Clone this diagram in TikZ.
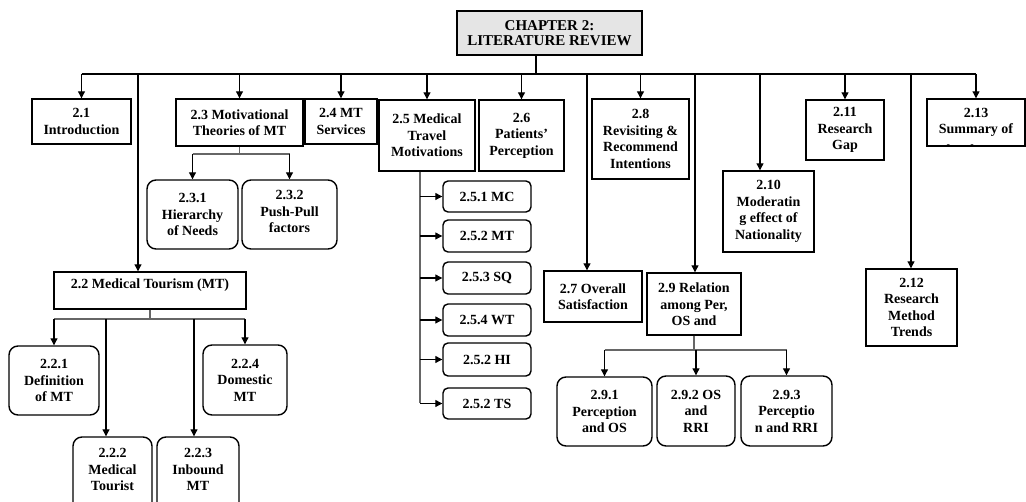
\documentclass[tikz,border=0pt]{standalone}
\usepackage{fontspec}
\setmainfont{Liberation Serif}
\usetikzlibrary{arrows.meta}

% box given by its corners: name, x1, y1, x2, y2, style, text
\newcommand\secbox[7]{%
  \node[#6, minimum width={(#4-#2)*1pt}, minimum height={(#5-#3)*1pt}]
    (#1) at ({(#2+#4)/2},{(#3+#5)/2}) {#7};}

\tikzset{
  lbl/.style={font=\fontsize{14}{16.5}\selectfont\bfseries, align=center, inner sep=0pt},
  box/.style={lbl, draw, line width=1.4pt},
  rbox/.style={box, rounded corners=9pt},
  sbox/.style={box, rounded corners=5pt},
  % text hung from the top edge and cut off by the frame
  toptext/.style 2 args={path picture={
      \node[lbl, draw=none, fill=none, minimum width=0pt, minimum height=0pt,
            rounded corners=0pt, anchor=north]
        at ([yshift=#2]path picture bounding box.north) {#1};}},
  link/.style={line width=1.1pt},
  arr/.style={link, -{Triangle[length=7pt,width=7pt]}},
  stem/.style={line width=1.2pt, draw=black!60},
}

\begin{document}
\begin{tikzpicture}[x=1pt,y=-1pt]
\clip (0,0) rectangle (1026,502);

% chapter header
\secbox{chap}{457}{11}{642}{55}{box, fill=gray!20, font=\fontsize{15}{15}\selectfont\bfseries}{CHAPTER 2:\\LITERATURE REVIEW}

% sections
\secbox{b21}{32}{99}{131}{144}{box}{2.1\\Introduction}
\secbox{b23}{176}{99}{303}{146}{box}{2.3 Motivational\\Theories of MT}
\secbox{b24}{305}{99}{377}{144}{box}{2.4 MT\\Services}
\secbox{b25}{379}{100}{475}{171}{box}{2.5 Medical\\Travel\\Motivations}
\secbox{b26}{479}{100}{564}{171}{box}{2.6\\Patients’\\Perception}
\secbox{b28}{592}{99}{689}{179}{box}{2.8\\Revisiting \&\\Recommend\\Intentions}
\secbox{b210}{723}{171}{814}{252}{box}{2.10\\Moderatin\\g effect of\\Nationality}
\secbox{b211}{806}{100}{884}{160}{box}{2.11\\Research\\Gap}
\secbox{b213}{927}{99}{1025}{146}{box, toptext={2.13\\Summary of\\[4pt]the chapter}{-8.5pt}}{}
\secbox{b22}{54}{272}{246}{309}{box, toptext={2.2 Medical Tourism (MT)}{-6.5pt}}{}
\secbox{b27}{544}{271}{642}{322}{box}{2.7 Overall\\Satisfaction}
\secbox{b29}{647}{273}{741}{335}{box, toptext={2.9 Relation\\among Per,\\OS and\\[2pt]RRI}{-9.5pt}}{}
\secbox{b212}{866}{269}{957}{346}{box}{2.12\\Research\\Method\\Trends}

% subsections of 2.2
\secbox{b221}{9}{346}{99}{415}{rbox}{2.2.1\\Definition\\of MT}
\secbox{b222}{73}{437}{152}{525}{rbox, toptext={2.2.2\\Medical\\Tourist}{-11pt}}{}
\secbox{b223}{157}{437}{239}{525}{rbox, toptext={2.2.3\\Inbound\\MT}{-11pt}}{}
\secbox{b224}{203}{345}{287}{415}{rbox}{2.2.4\\Domestic\\MT}

% subsections of 2.3
\secbox{b231}{147}{180}{238}{249}{rbox}{2.3.1\\Hierarchy\\of Needs}
\secbox{b232}{242}{180}{337}{249}{rbox, toptext={2.3.2\\Push-Pull\\factors}{-10pt}}{}

% subsections of 2.5
\secbox{b251}{443}{181}{531}{212}{sbox}{2.5.1 MC}
\secbox{b252}{443}{220}{531}{252}{sbox}{2.5.2 MT}
\secbox{b253}{443}{262}{531}{294}{sbox}{2.5.3 SQ}
\secbox{b254}{443}{304}{531}{336}{sbox}{2.5.4 WT}
\secbox{b255}{443}{343}{531}{376}{sbox}{2.5.2 HI}
\secbox{b256}{443}{388}{531}{419}{sbox}{2.5.2 TS}

% subsections of 2.9
\secbox{b291}{557}{377}{652}{446}{rbox}{2.9.1\\Perception\\and OS}
\secbox{b292}{657}{376}{735}{446}{rbox}{2.9.2 OS\\and\\RRI}
\secbox{b293}{741}{376}{832}{446}{rbox}{2.9.3\\Perceptio\\n and RRI}

% main bus
\coordinate (bus) at (536,74);
\draw[link] (bus |- chap.south) -- (bus);
\draw[link] (bus -| b21.north) -- (bus -| b213.north);
\foreach \n in {b21,b23,b24,b25,b26,b28,b211,b213}
  \draw[arr] (bus -| \n.north) -- (\n.north);

% long drops from the bus
\coordinate (d22) at (138,74);
\coordinate (d27) at (587,74);
\coordinate (d29) at (695,74);
\coordinate (d210) at (760,74);
\coordinate (d212) at (911,74);
\draw[arr] (d22) -- (d22 |- b22.north);
\draw[arr] (d27) -- (d27 |- b27.north);
\draw[arr] (d29) -- (d29 |- b29.north);
\draw[arr] (d210) -- (d210 |- b210.north);
\draw[arr] (d212) -- (d212 |- b212.north);

% 2.3 branch
\coordinate (j23) at (0,154);
\draw[stem] (b23.south) -- (b23.south |- j23);
\draw[stem] (b231.north |- j23) -- (b232.north |- j23);
\draw[arr] (b231.north |- j23) -- (b231.north);
\draw[arr] (b232.north |- j23) -- (b232.north);

% 2.2 branch
\coordinate (j22) at (0,319);
\coordinate (k222) at (106,319);
\coordinate (k223) at (194,319);
\draw[stem] (b22.south) -- (b22.south |- j22);
\draw[stem] (b221.north |- j22) -- (b224.north |- j22);
\draw[arr] (b221.north |- j22) -- (b221.north);
\draw[arr] (k222) -- (k222 |- b222.north);
\draw[arr] (k223) -- (k223 |- b223.north);
\draw[arr] (b224.north |- j22) -- (b224.north);

% 2.5 branch
\coordinate (s25) at (420,0);
\draw[stem] (s25 |- b25.south) -- (s25 |- b256.west);
\foreach \n in {b251,b252,b253,b254,b255,b256}
  \draw[arr] (s25 |- \n.west) -- (\n.west);

% 2.9 branch
\coordinate (j29) at (0,350);
\draw[stem] (b29.south) -- (b29.south |- j29);
\draw[stem] (b291.north |- j29) -- (b293.north |- j29);
\draw[arr] (b291.north |- j29) -- (b291.north);
\draw[arr] (b292.north |- j29) -- (b292.north);
\draw[arr] (b293.north |- j29) -- (b293.north);
\end{tikzpicture}
\end{document}
